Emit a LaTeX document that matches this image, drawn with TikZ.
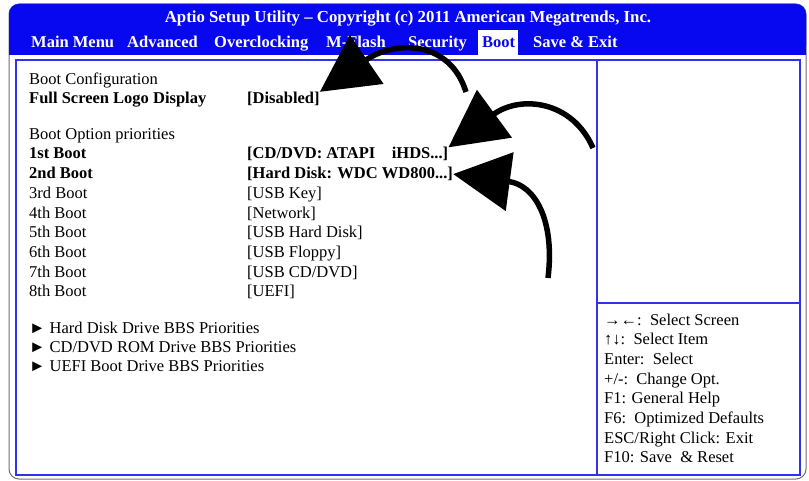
\documentclass[tikz,border=0pt]{standalone}
\usepackage{fontspec}
\setmainfont{Liberation Serif}
\usepackage{tikz}
\usetikzlibrary{calc}
\usetikzlibrary{arrows.meta}
\usetikzlibrary{positioning}
\definecolor{biosblue}{RGB}{8,8,240}
\definecolor{panelblue}{RGB}{50,50,235}
\definecolor{framegray}{RGB}{110,110,110}
\tikzset{item/.style={anchor=base west,inner sep=0pt,font=\fontsize{16.5}{18}\selectfont}}
\tikzset{bolditem/.style={item,font=\fontsize{16.5}{18}\selectfont\bfseries}}
\tikzset{menu/.style={anchor=base west,inner sep=0pt,text=white,font=\fontsize{16.5}{18}\selectfont\bfseries}}
\tikzset{help/.style={anchor=base west,inner sep=0pt,font=\fontsize{16.5}{18}\selectfont}}
\tikzset{bigarrow/.style={line width=5.5pt,-{Triangle[length=57pt,width=58pt]}}}

\begin{document}
\begin{tikzpicture}[x=1pt,y=-1pt]
\useasboundingbox (0,0) rectangle (809,481);
% outer frame and header bar
\draw[framegray,line width=1pt,rounded corners=10pt] (9,4) rectangle (806,479);
\fill[biosblue,rounded corners=10pt] (9,4) rectangle (806,55);
\fill[biosblue] (9,30) rectangle (806,55);
\fill[white] (478,30) rectangle (518,56);

% panels
\draw[panelblue,line width=2.2pt] (16,60) rectangle (800,475);
\draw[panelblue,line width=2.2pt] (597,60) -- (597,475);
\draw[panelblue,line width=2.2pt] (597,303) -- (800,303);

\node[menu,anchor=base,font=\fontsize{16.8}{18}\selectfont\bfseries] (title) at (408,23) {Aptio Setup Utility – Copyright (c) 2011 American Megatrends, Inc.};

\foreach \x / \name / \txt in {31/main/Main Menu,127/adv/Advanced,214/oc/Overclocking,326/mfl/M-Flash,408/sec/Security,533/save/Save \& Exit}
{
	\node[menu] (\name) at (\x,48) {\txt};
}
\node[menu,text=biosblue] (boot) at (482,48) {Boot};

% left panel
\node[item] (cfg) at (29,85) {Boot Configuration};
\node[bolditem] (fsl) at (29,103.5) {Full Screen Logo Display};
\node[bolditem] (fslv) at (247,103.5) {[Disabled]};
\node[item] (prio) at (29,139.5) {Boot Option priorities};

\node[bolditem] (b1) at (29,159) {1st Boot};
\node[bolditem] (v1) at (247,159) {[CD/DVD: ATAPI\ \ \ \ iHDS...]};
\node[bolditem] (b2) at (29,178.7) {2nd Boot};
\node[bolditem] (v2) at (247,178.7) {[Hard Disk: WDC WD800...]};

\foreach \i / \ord / \val in {3/3rd/{[USB Key]},4/4th/{[Network]},5/5th/{[USB Hard Disk]},6/6th/{[USB Floppy]},7/7th/{[USB CD/DVD]},8/8th/{[UEFI]}}
{
	\node[item] (b\i) at (29,159+19.7*\i-19.7) {\ord\ Boot};
	\node[item] (v\i) at (247,159+19.7*\i-19.7) {\val};
}

\foreach \i / \txt in {1/{Hard Disk Drive BBS Priorities},2/{CD/DVD ROM Drive BBS Priorities},3/{UEFI Boot Drive BBS Priorities}}
{
	\node[item] (bbs\i) at (29,333+19*\i-19) {►\ \txt};
}

% right panel help
\foreach \i / \txt in {1/{→←:\ \ Select Screen},2/{↑↓:\ \ Select Item},3/{Enter:\ \ Select},4/{+/-:\ \ Change Opt.},5/{F1: General Help},6/{F6:\ \ Optimized Defaults},7/{ESC/Right Click: Exit},8/{F10: Save\ \ \& Reset}}
{
	\node[help] (h\i) at (604,325+19.7*\i-19.7) {\txt};
}

% arrows
\coordinate (t1) at (466,92);
\coordinate (t2) at (593,148);
\coordinate (t3) at (548,278);
\draw[bigarrow] (t1) .. controls (450,40) and (395,40) .. (fslv.north east);
\draw[bigarrow] (t2) .. controls (572,100) and (520,95) .. (v1.north east);
\draw[bigarrow] (t3) .. controls (555,220) and (535,185) .. (v2.east);
\end{tikzpicture}
\end{document}
